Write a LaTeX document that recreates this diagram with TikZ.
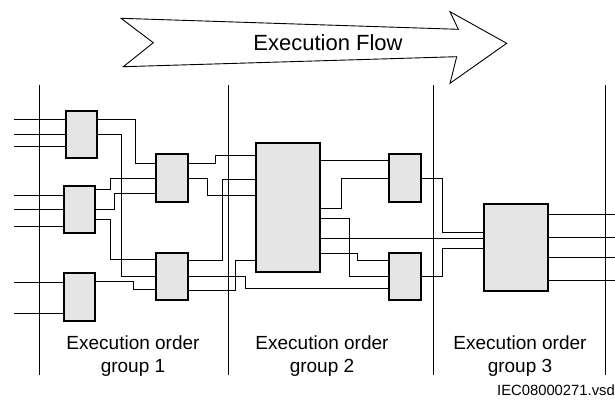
\documentclass[tikz,border=0pt]{standalone}
\usepackage{fontspec}
\setmainfont{Liberation Sans}
\definecolor{boxfill}{HTML}{E5E5E5}
\begin{document}
\begin{tikzpicture}[x=1pt,y=-1pt,
  blk/.style={draw=black, line width=1.8pt, fill=boxfill, rectangle, inner sep=0pt, outer sep=0pt},
  wire/.style={draw=black, line width=0.8pt},
  grp/.style={draw=black, line width=0.9pt},
  lbl/.style={font=\fontsize{19}{23}\selectfont, align=center, inner sep=0pt, anchor=north}]
\useasboundingbox (0,0) rectangle (615,405);

% execution flow arrow
\draw[line width=0.9pt, fill=white, line join=miter]
  (121,18.3) -- (458.3,29.3) -- (450,11.7) -- (506.7,43.3) -- (450,83.3)
  -- (456.7,56.7) -- (123.3,66.7) -- (153.3,42.7) -- cycle;
\node[font=\fontsize{22}{26}\selectfont, inner sep=0pt, anchor=base] (flow) at (328,50.7) {Execution Flow};

% group separators
\foreach \x/\n in {39/1,228/2,433/3,605/4}{
  \coordinate (s\n t) at (\x,85);
  \coordinate (s\n b) at (\x,375);
  \draw[grp] (s\n t) -- (s\n b);
}

% blocks
\node[blk, minimum width=31pt, minimum height=47pt] (A1) at (81.5,134.5) {};
\node[blk, minimum width=31pt, minimum height=47pt] (A2) at (79.5,209.5) {};
\node[blk, minimum width=31pt, minimum height=48pt] (A3) at (79.5,297) {};
\node[blk, minimum width=32pt, minimum height=48pt] (B1) at (172,178) {};
\node[blk, minimum width=32pt, minimum height=47pt] (B2) at (172,276.5) {};
\node[blk, minimum width=64pt, minimum height=129pt] (C) at (288,207.5) {};
\node[blk, minimum width=32pt, minimum height=48pt] (D1) at (405,178) {};
\node[blk, minimum width=32pt, minimum height=47pt] (D2) at (405,276.5) {};
\node[blk, minimum width=64pt, minimum height=87pt] (E) at (516,247.5) {};

% inputs
\foreach \y/\b in {119/A1,134/A1,146/A1,195/A2,209/A2,226/A2,282/A3,313/A3}{
  \coordinate (in\y) at (14,\y);
  \draw[wire] (in\y) -- (\b.west |- 0,\y);
}
% outputs
\foreach \y in {214,237,257,280}{
  \coordinate (out\y) at (615,\y);
  \draw[wire] (E.east |- 0,\y) -- (out\y);
}

% group 1 -> group 1
\draw[wire] (A1.east |- 0,119) -| (135,163) -- (B1.west |- 0,163);
\draw[wire] (A1.east |- 0,134) -| (121,276) -- (B2.west |- 0,276);
\draw[wire] (A2.east |- 0,189) -| (110,178) -- (B1.west |- 0,178);
\draw[wire] (A2.east |- 0,209) -| (114,193) -- (B1.west |- 0,193);
\draw[wire] (A2.east |- 0,219) -| (110,259) -- (B2.west |- 0,259);
\draw[wire] (A3.east |- 0,281) -| (133,289) -- (B2.west |- 0,289);

% group 1 -> group 2
\draw[wire] (B1.east |- 0,163) -| (215,155) -- (C.west |- 0,155);
\draw[wire] (B1.east |- 0,178) -| (207,195) -- (C.west |- 0,195);
\draw[wire] (B2.east |- 0,260) -| (222,179) -- (C.west |- 0,179);
\draw[wire] (B2.east |- 0,290) -| (235,260) -- (C.west |- 0,260);
\draw[wire] (B2.east |- 0,276) -| (245,288) -- (D2.west |- 0,288);

% group 2
\draw[wire] (C.east |- 0,160) -- (D1.west |- 0,160);
\draw[wire] (C.east |- 0,208) -| (341,178) -- (D1.west |- 0,178);
\draw[wire] (C.east |- 0,218) -| (349,276) -- (D2.west |- 0,276);
\draw[wire] (C.east |- 0,253) -| (357,260) -- (D2.west |- 0,260);
\draw[wire] (C.east |- 0,238) -- (E.west |- 0,238);

% group 2 -> group 3
\draw[wire] (D1.east |- 0,178) -| (442,232) -- (E.west |- 0,232);
\draw[wire] (D2.east |- 0,276) -| (442,248) -- (E.west |- 0,248);

% labels
\node[lbl] (g1) at (133,336) {Execution order\\group 1};
\node[lbl] (g2) at (322,336) {Execution order\\group 2};
\node[lbl] (g3) at (520,336) {Execution order\\group 3};
\node[font=\fontsize{14.8}{17}\selectfont, inner sep=0pt, anchor=base east] (fname) at (615,395) {IEC08000271.vsd};
\end{tikzpicture}
\end{document}
